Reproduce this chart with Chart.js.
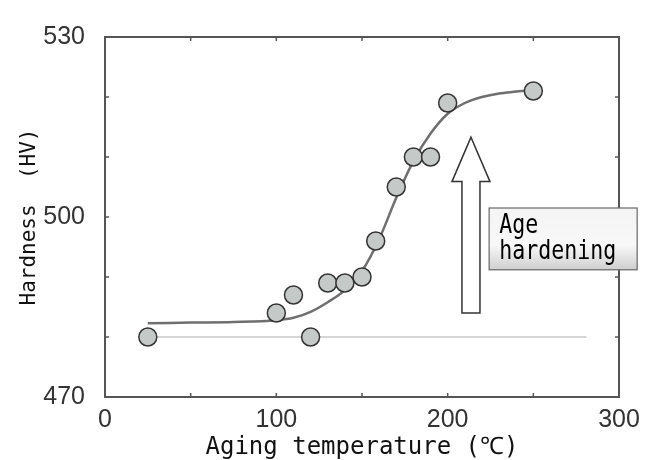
<!DOCTYPE html>
<html>
<head>
<meta charset="utf-8">
<script src="https://cdn.jsdelivr.net/npm/chart.js@4.4.0/dist/chart.umd.min.js"></script>
<style>
  html, body { margin: 0; padding: 0; background: #fff; }
  #wrap { width: 647px; height: 460px; }
</style>
</head>
<body>
<div id="wrap"><canvas id="myChart" width="647" height="460"></canvas></div>
<script>
// measured hardness after aging
const temps = [25, 100, 110, 120, 130, 140, 150, 158, 170, 180, 190, 200, 250];
const hardness = [480, 484, 487, 480, 489, 489, 490, 496, 505, 510, 510, 519, 521];

// fitted curve
const fitTemps = [25, 50, 75, 100, 110, 120, 130, 140, 150, 160, 170, 180, 190, 200, 210, 220, 230, 240, 250];
const fitHardness = [482.3, 482.4, 482.5, 482.8, 483.2, 484.2, 485.8, 487.8, 491.0, 496.3, 503.2, 509.3, 513.9, 517.2, 519.0, 520.0, 520.6, 520.9, 521.2];

// base level line
const baseTemps = [25, 281];
const baseHardness = [480, 480];

const xTickLabels = [0, 100, 200, 300];
const yTickLabels = [470, 500, 530];

// annotation (data units)
const arrowT = 213.6, arrowFrom = 484, arrowTo = 513.3, arrowHeadBase = 505.9;
const boxLeftT = 224.2, boxRightT = 310.6, boxTopH = 501.5, boxBottomH = 491.2;
const boxLines = ['Age', 'hardening'];

const ctx = document.getElementById('myChart').getContext('2d');

const toXY = (xs, ys) => xs.map((x, i) => ({ x: x, y: ys[i] }));

// frame + inward tick marks on all four sides
const frameTicks = {
  id: 'frameTicks',
  beforeDatasetsDraw(chart) {
    const { ctx, chartArea: a, scales } = chart;
    ctx.save();
    ctx.strokeStyle = '#555';
    ctx.lineWidth = 1.5;
    scales.x.ticks.forEach(t => {
      const px = scales.x.getPixelForValue(t.value);
      ctx.beginPath();
      ctx.moveTo(px, a.bottom); ctx.lineTo(px, a.bottom - 4);
      ctx.moveTo(px, a.top); ctx.lineTo(px, a.top + 4);
      ctx.stroke();
    });
    scales.y.ticks.forEach(t => {
      const py = scales.y.getPixelForValue(t.value);
      ctx.beginPath();
      ctx.moveTo(a.left, py); ctx.lineTo(a.left + 4, py);
      ctx.moveTo(a.right, py); ctx.lineTo(a.right - 4, py);
      ctx.stroke();
    });
    ctx.lineWidth = 2;
    ctx.strokeRect(a.left, a.top, a.right - a.left, a.bottom - a.top);
    ctx.restore();
  }
};

// hollow arrow and the "Age hardening" label box
const ageLabel = {
  id: 'ageLabel',
  afterDraw(chart) {
    const { ctx, scales } = chart;
    const x = scales.x.getPixelForValue(arrowT);
    const yTip = scales.y.getPixelForValue(arrowTo);
    const yBase = scales.y.getPixelForValue(arrowHeadBase);
    const yEnd = scales.y.getPixelForValue(arrowFrom);
    const hw = 19, sw = 9;
    ctx.save();
    ctx.beginPath();
    ctx.moveTo(x, yTip);
    ctx.lineTo(x + hw, yBase);
    ctx.lineTo(x + sw, yBase);
    ctx.lineTo(x + sw, yEnd);
    ctx.lineTo(x - sw, yEnd);
    ctx.lineTo(x - sw, yBase);
    ctx.lineTo(x - hw, yBase);
    ctx.closePath();
    ctx.fillStyle = '#fff';
    ctx.fill();
    ctx.strokeStyle = '#333';
    ctx.lineWidth = 1.5;
    ctx.stroke();

    const bx = scales.x.getPixelForValue(boxLeftT);
    const bx2 = scales.x.getPixelForValue(boxRightT);
    const by = scales.y.getPixelForValue(boxTopH);
    const by2 = scales.y.getPixelForValue(boxBottomH);
    const g = ctx.createLinearGradient(0, by, 0, by2);
    g.addColorStop(0, '#f4f4f4');
    g.addColorStop(0.6, '#f8f8f8');
    g.addColorStop(1, '#cfcfcf');
    ctx.fillStyle = g;
    ctx.fillRect(bx, by, bx2 - bx, by2 - by);
    ctx.strokeStyle = '#666';
    ctx.lineWidth = 1.2;
    ctx.strokeRect(bx, by, bx2 - bx, by2 - by);

    ctx.fillStyle = '#000';
    ctx.font = '27px "DejaVu Sans Mono", "Liberation Mono", monospace';
    ctx.textBaseline = 'alphabetic';
    boxLines.forEach((line, i) => {
      ctx.save();
      ctx.translate(bx + 10, by + 25 + i * 26);
      ctx.scale(0.8, 1);
      ctx.fillText(line, 0, 0);
      ctx.restore();
    });
    ctx.restore();
  }
};

const tickFont = { family: "'Liberation Sans Narrow', 'Liberation Sans', Arial, sans-serif", size: 25 };
const titleFamily = "'DejaVu Sans Mono', 'Liberation Mono', monospace";

new Chart(ctx, {
  type: 'scatter',
  data: {
    datasets: [
      {
        label: 'measured',
        data: toXY(temps, hardness),
        pointRadius: 9,
        pointHoverRadius: 9,
        backgroundColor: '#c5c9c7',
        borderColor: '#333',
        borderWidth: 1.5,
        order: 1
      },
      {
        label: 'fit',
        data: toXY(fitTemps, fitHardness),
        showLine: true,
        pointRadius: 0,
        borderColor: '#6f6f6f',
        borderWidth: 2.5,
        cubicInterpolationMode: 'monotone',
        order: 2
      },
      {
        label: 'base',
        data: toXY(baseTemps, baseHardness),
        showLine: true,
        pointRadius: 0,
        borderColor: '#c8c8c8',
        borderWidth: 1.5,
        order: 3
      }
    ]
  },
  options: {
    responsive: false,
    animation: false,
    events: [],
    layout: { padding: { top: 37, right: 28, left: 0, bottom: 0 }, autoPadding: false },
    plugins: { legend: { display: false }, tooltip: { enabled: false } },
    scales: {
      x: {
        type: 'linear',
        min: 0, max: 300,
        grid: { display: false },
        border: { display: false },
        ticks: {
          stepSize: 50,
          maxRotation: 0,
          autoSkip: false,
          padding: 0,
          color: '#333',
          font: tickFont,
          callback: v => xTickLabels.includes(v) ? v : ''
        },
        title: {
          display: true,
          text: 'Aging temperature (℃)',
          color: '#111',
          font: { family: titleFamily, size: 24, lineHeight: 1.0 },
          padding: { top: 0, bottom: 0 }
        },
        afterFit: s => { s.height = 63; }
      },
      y: {
        type: 'linear',
        min: 470, max: 530,
        grid: { display: false },
        border: { display: false },
        ticks: {
          stepSize: 10,
          autoSkip: false,
          padding: 12,
          color: '#333',
          font: tickFont,
          callback: v => yTickLabels.includes(v) ? v : ''
        },
        title: {
          display: true,
          text: 'Hardness  (HV)',
          color: '#111',
          font: { family: titleFamily, size: 21, lineHeight: 1.2 },
          padding: { top: 17, bottom: 0 }
        },
        afterFit: s => { s.width = 105; }
      }
    }
  },
  plugins: [frameTicks, ageLabel]
});
</script>
</body>
</html>
